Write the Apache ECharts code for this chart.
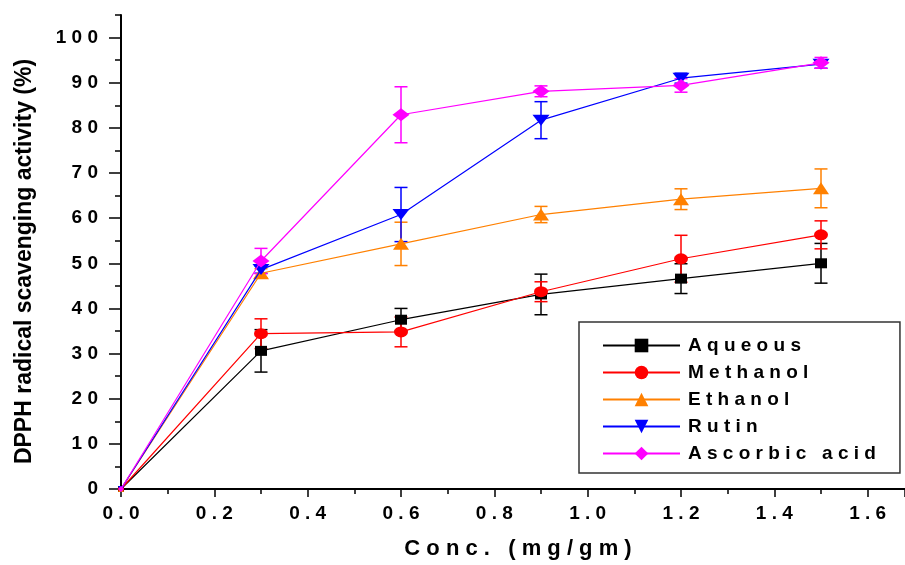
<!DOCTYPE html>
<html>
<head>
<meta charset="utf-8">
<title>DPPH</title>
<script src="https://cdn.jsdelivr.net/npm/echarts@6/dist/echarts.min.js"></script>
<style>
html,body{margin:0;padding:0;background:#fff;}
#main{width:905px;height:565px;}
</style>
</head>
<body>
<div id="main"></div>
<script>
//浓度 (mg/gm)
var conc = [0, 0.3, 0.6, 0.9, 1.2, 1.5];

//各组数据及误差
var aqueous = [0, 30.6, 37.5, 43.1, 46.6, 50.0];
var aqueousErr = [0, 4.7, 2.5, 4.5, 3.3, 4.4];
var methanol = [0, 34.4, 34.8, 43.7, 51.0, 56.3];
var methanolErr = [0, 3.3, 3.3, 2.2, 5.2, 3.1];
var ethanol = [0, 47.8, 54.3, 60.8, 64.2, 66.6];
var ethanolErr = [0, 1.0, 4.8, 1.8, 2.3, 4.3];
var rutin = [0, 48.6, 60.8, 81.7, 91.0, 94.1];
var rutinErr = [0, 0.8, 6.0, 4.1, 1.1, 0.9];
var ascorbic = [0, 50.5, 82.9, 88.1, 89.4, 94.4];
var ascorbicErr = [0, 2.8, 6.2, 1.2, 1.5, 1.2];

var names = ['Aqueous', 'Methanol', 'Ethanol', 'Rutin', 'Ascorbic acid'];
var legendLabels = ['A q u e o u s', 'M e t h a n o l', 'E t h a n o l', 'R u t i n', 'A s c o r b i c   a c i d'];
var yTicks = [0, 10, 20, 30, 40, 50, 60, 70, 80, 90, 100];

var FONT = 'Liberation Sans';

//拉开字间距
function spaced(s) {
    return String(s).split('').join(' ');
}

function pairs(vals) {
    var out = [];
    for (var i = 0; i < conc.length; i++) {
        out.push([conc[i], vals[i]]);
    }
    return out;
}

function errPairs(vals, errs) {
    var out = [];
    for (var i = 0; i < conc.length; i++) {
        if (errs[i] > 0) out.push([conc[i], vals[i] - errs[i], vals[i] + errs[i]]);
    }
    return out;
}

//误差棒
function renderErr(params, api) {
    var x = api.value(0);
    var lo = api.coord([x, api.value(1)]);
    var hi = api.coord([x, api.value(2)]);
    var c = api.visual('color');
    var w = 6.5;
    var st = { stroke: c, lineWidth: 1.5 };
    return {
        type: 'group',
        children: [
            { type: 'line', shape: { x1: lo[0], y1: lo[1], x2: hi[0], y2: hi[1] }, style: st },
            { type: 'line', shape: { x1: lo[0] - w, y1: lo[1], x2: lo[0] + w, y2: lo[1] }, style: st },
            { type: 'line', shape: { x1: hi[0] - w, y1: hi[1], x2: hi[0] + w, y2: hi[1] }, style: st }
        ]
    };
}

var groups = [
    { name: names[0], data: aqueous, err: aqueousErr, color: '#000000', symbol: 'rect', size: [12, 10], rotate: 0 },
    { name: names[1], data: methanol, err: methanolErr, color: '#ff0000', symbol: 'circle', size: [14, 11], rotate: 0 },
    { name: names[2], data: ethanol, err: ethanolErr, color: '#ff8000', symbol: 'triangle', size: [16, 12], rotate: 0 },
    { name: names[3], data: rutin, err: rutinErr, color: '#0000ff', symbol: 'triangle', size: [17, 11], rotate: 180 },
    { name: names[4], data: ascorbic, err: ascorbicErr, color: '#ff00ff', symbol: 'diamond', size: [17, 13], rotate: 0 }
];

var mySeries = [];
for (var i = 0; i < groups.length; i++) {
    var g = groups[i];
    mySeries.push({
        name: g.name + ' err',
        type: 'custom',
        renderItem: renderErr,
        itemStyle: { color: g.color },
        data: errPairs(g.data, g.err),
        z: 2 + i
    });
}
for (var i = 0; i < groups.length; i++) {
    (function (g, i) {
        mySeries.push({
            name: g.name,
            type: 'line',
            data: pairs(g.data),
            color: g.color,
            symbol: g.symbol,
            symbolRotate: g.rotate,
            symbolSize: function (val) {
                return val[0] === 0 ? [6, 6] : g.size;
            },
            showAllSymbol: true,
            lineStyle: { width: 1.2, color: g.color },
            itemStyle: { color: g.color, opacity: 1 },
            z: 8 + i
        });
    })(groups[i], i);
}

var labelFont = { fontFamily: FONT, fontWeight: 'bold', fontSize: 19, color: '#000' };

var option = {
    animation: false,
    backgroundColor: '#fff',
    grid: { left: 121, right: 0, top: 15, bottom: 73 },
    legend: {
        data: names,
        orient: 'vertical',
        left: 579,
        top: 322,
        itemWidth: 77,
        itemHeight: 17,
        itemGap: 8,
        padding: [14, 24, 10, 23],
        borderColor: '#333',
        borderWidth: 1.5,
        formatter: function (n) {
            return legendLabels[names.indexOf(n)];
        },
        textStyle: { fontFamily: FONT, fontWeight: 'bold', fontSize: 19, color: '#000', padding: [0, 0, 0, 3] }
    },
    xAxis: [
        {
            type: 'value',
            min: 0,
            max: 1.68,
            interval: 0.1,
            name: 'C o n c .   ( m g / g m )',
            nameLocation: 'middle',
            nameGap: 49,
            nameTextStyle: { fontFamily: FONT, fontWeight: 'bold', fontSize: 22, color: '#000', padding: [0, 0, 0, 10] },
            axisLine: { lineStyle: { color: '#000', width: 2 } },
            axisTick: { length: 5, lineStyle: { color: '#000', width: 1.5 } },
            axisLabel: {
                margin: 15,
                showMaxLabel: false,
                formatter: function (v) {
                    var k = Math.round(v * 10);
                    if (Math.abs(v * 10 - k) > 1e-6 || k % 2 !== 0) return '';
                    return spaced(v.toFixed(1));
                },
                fontFamily: labelFont.fontFamily, fontWeight: labelFont.fontWeight, fontSize: labelFont.fontSize, color: labelFont.color
            },
            splitLine: { show: false }
        },
        {
            type: 'value',
            position: 'bottom',
            min: 0,
            max: 1.68,
            interval: 0.2,
            axisLine: { show: false },
            axisTick: { length: 8, lineStyle: { color: '#000', width: 1.5 } },
            axisLabel: { show: false },
            splitLine: { show: false }
        }
    ],
    yAxis: [
        {
            type: 'value',
            min: 0,
            max: 105,
            interval: 5,
            name: 'DPPH radical scavenging activity (%)',
            nameLocation: 'middle',
            nameGap: 85,
            nameTextStyle: { fontFamily: FONT, fontWeight: 'bold', fontSize: 23, color: '#000', padding: [0, 19, 0, 0] },
            axisLine: { lineStyle: { color: '#000', width: 2 } },
            axisTick: { length: 6, lineStyle: { color: '#000', width: 1.5 } },
            axisLabel: {
                margin: 23,
                formatter: function (v) {
                    if (v % 10 !== 0 || v > 100) return '';
                    return spaced(v);
                },
                fontFamily: labelFont.fontFamily, fontWeight: labelFont.fontWeight, fontSize: labelFont.fontSize, color: labelFont.color
            },
            splitLine: { show: false }
        },
        {
            type: 'value',
            position: 'left',
            min: 0,
            max: 105,
            interval: 10,
            axisLine: { show: false },
            axisTick: { length: 12, customValues: yTicks, lineStyle: { color: '#000', width: 1.5 } },
            axisLabel: { show: false },
            splitLine: { show: false }
        }
    ],
    series: mySeries
};

var myChart = echarts.init(document.getElementById('main'));
myChart.setOption(option, true);
</script>
</body>
</html>
